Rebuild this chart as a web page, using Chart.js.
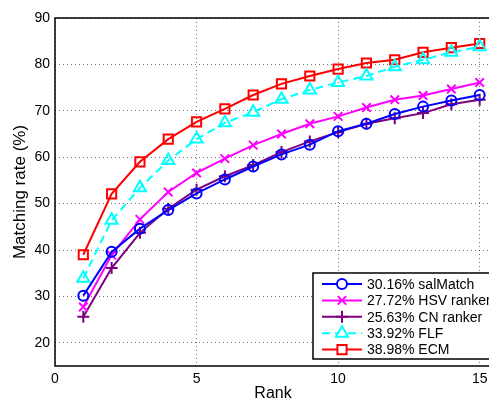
<!DOCTYPE html>
<html>
<head>
<meta charset="utf-8">
<script src="https://cdn.jsdelivr.net/npm/chart.js@4/dist/chart.umd.min.js"></script>
<style>
  html, body { margin: 0; padding: 0; background: #fff; overflow: hidden; }
  #wrap { width: 500px; height: 403px; }
</style>
</head>
<body>
<div id="wrap"><canvas id="myChart" width="500" height="403"></canvas></div>
<script>
// data
const ranks = [1, 2, 3, 4, 5, 6, 7, 8, 9, 10, 11, 12, 13, 14, 15];
const salMatch = [30.16, 39.6, 44.6, 48.6, 52.2, 55.2, 58.0, 60.6, 62.7, 65.6, 67.2, 69.3, 70.9, 72.2, 73.4];
const hsvRanker = [27.72, 38.9, 46.6, 52.5, 56.6, 59.7, 62.6, 65.0, 67.2, 68.8, 70.7, 72.4, 73.3, 74.7, 76.1];
const cnRanker = [25.63, 36.1, 43.7, 48.9, 53.0, 55.9, 58.3, 61.1, 63.4, 65.4, 67.2, 68.4, 69.5, 71.4, 72.4];
const flf = [33.92, 46.4, 53.4, 59.3, 63.9, 67.4, 69.7, 72.5, 74.5, 76.1, 77.5, 79.5, 81.0, 82.6, 83.8];
const ecm = [38.98, 52.1, 59.0, 63.9, 67.6, 70.4, 73.4, 75.8, 77.5, 79.0, 80.3, 81.0, 82.6, 83.6, 84.5];
const seriesNames = ['30.16% salMatch', '27.72% HSV ranker', '25.63% CN ranker', '33.92% FLF', '38.98% ECM'];
const xTicks = [0, 5, 10, 15];
const yTicks = [20, 30, 40, 50, 60, 70, 80, 90];

const FONT = '"Liberation Sans", Arial, sans-serif';

const toPoints = vals => vals.map((v, i) => ({ x: ranks[i], y: v }));

function makeSet(label, vals, color, style, radius, dash) {
    return {
        label: label,
        data: toPoints(vals),
        borderColor: color,
        borderWidth: 2,
        borderDash: dash || [],
        pointStyle: style,
        pointRadius: radius,
        pointHoverRadius: radius,
        pointBorderColor: color,
        pointBackgroundColor: 'rgba(0,0,0,0)',
        pointBorderWidth: 2,
        tension: 0,
        fill: false
    };
}

// frame + legend box drawn on top, MATLAB style
const boxPlugin = {
    id: 'boxPlugin',
    afterDraw(chart) {
        const ctx = chart.ctx;
        const a = chart.chartArea;
        ctx.save();
        ctx.strokeStyle = '#000';
        ctx.lineWidth = 1.5;
        ctx.strokeRect(a.left, a.top, a.right - a.left, a.bottom - a.top);

        // legend
        const lx = 313, ly = 273, lw = 185, lh = 86;
        ctx.fillStyle = '#fff';
        ctx.fillRect(lx, ly, lw, lh);
        ctx.lineWidth = 1.5;
        ctx.strokeRect(lx, ly, lw, lh);
        ctx.font = '14px ' + FONT;
        ctx.textBaseline = 'middle';
        chart.data.datasets.forEach((ds, i) => {
            const y = 284 + i * 16.4;
            ctx.strokeStyle = ds.borderColor;
            ctx.lineWidth = 2;
            ctx.setLineDash(ds.borderDash);
            ctx.beginPath();
            ctx.moveTo(322, y);
            ctx.lineTo(362, y);
            ctx.stroke();
            ctx.setLineDash([]);
            ctx.fillStyle = '#fff';
            Chart.helpers.drawPoint(ctx, {
                pointStyle: ds.pointStyle, radius: ds.pointRadius, rotation: 0, borderWidth: 2
            }, 342, y);
            ctx.fillStyle = '#000';
            ctx.fillText(ds.label, 367, y + 1);
        });
        ctx.restore();
    }
};

const data = {
    datasets: [
        makeSet(seriesNames[0], salMatch, '#0000ff', 'circle', 5),
        makeSet(seriesNames[1], hsvRanker, '#ff00ff', 'crossRot', 6),
        makeSet(seriesNames[2], cnRanker, '#7e007e', 'cross', 6),
        makeSet(seriesNames[3], flf, '#00ffff', 'triangle', 7, [8, 5]),
        makeSet(seriesNames[4], ecm, '#ff0000', 'rect', 6.5)
    ]
};

const config = {
    type: 'line',
    data: data,
    options: {
        responsive: false,
        devicePixelRatio: 1,
        animation: false,
        layout: { padding: { top: 18, right: 6, left: 0, bottom: 0 } },
        plugins: { legend: { display: false }, tooltip: { enabled: false } },
        scales: {
            x: {
                type: 'linear',
                min: 0,
                max: 15.4,
                afterBuildTicks: s => { s.ticks = xTicks.map(v => ({ value: v })); },
                afterFit: s => { s.height = 37; },
                ticks: { color: '#000', font: { family: FONT, size: 14 }, padding: 5, maxRotation: 0 },
                grid: { color: 'rgba(0,0,0,0.55)', drawTicks: false, lineWidth: 1 },
                border: { display: false, dash: [1, 3] },
                title: { display: true, text: 'Rank', color: '#000', font: { family: FONT, size: 16 }, padding: { top: 0, bottom: 0 } }
            },
            y: {
                min: 15,
                max: 90,
                afterBuildTicks: s => { s.ticks = yTicks.map(v => ({ value: v })); },
                afterFit: s => { s.width = 55; },
                ticks: { color: '#000', font: { family: FONT, size: 14 }, padding: 5 },
                grid: { color: 'rgba(0,0,0,0.55)', drawTicks: false, lineWidth: 1 },
                border: { display: false, dash: [1, 3] },
                title: { display: true, text: 'Matching rate (%)', color: '#000', font: { family: FONT, size: 17 }, padding: { top: 10, bottom: 0 } }
            }
        }
    },
    plugins: [boxPlugin]
};

const myChart = new Chart(document.getElementById('myChart'), config);
</script>
</body>
</html>
